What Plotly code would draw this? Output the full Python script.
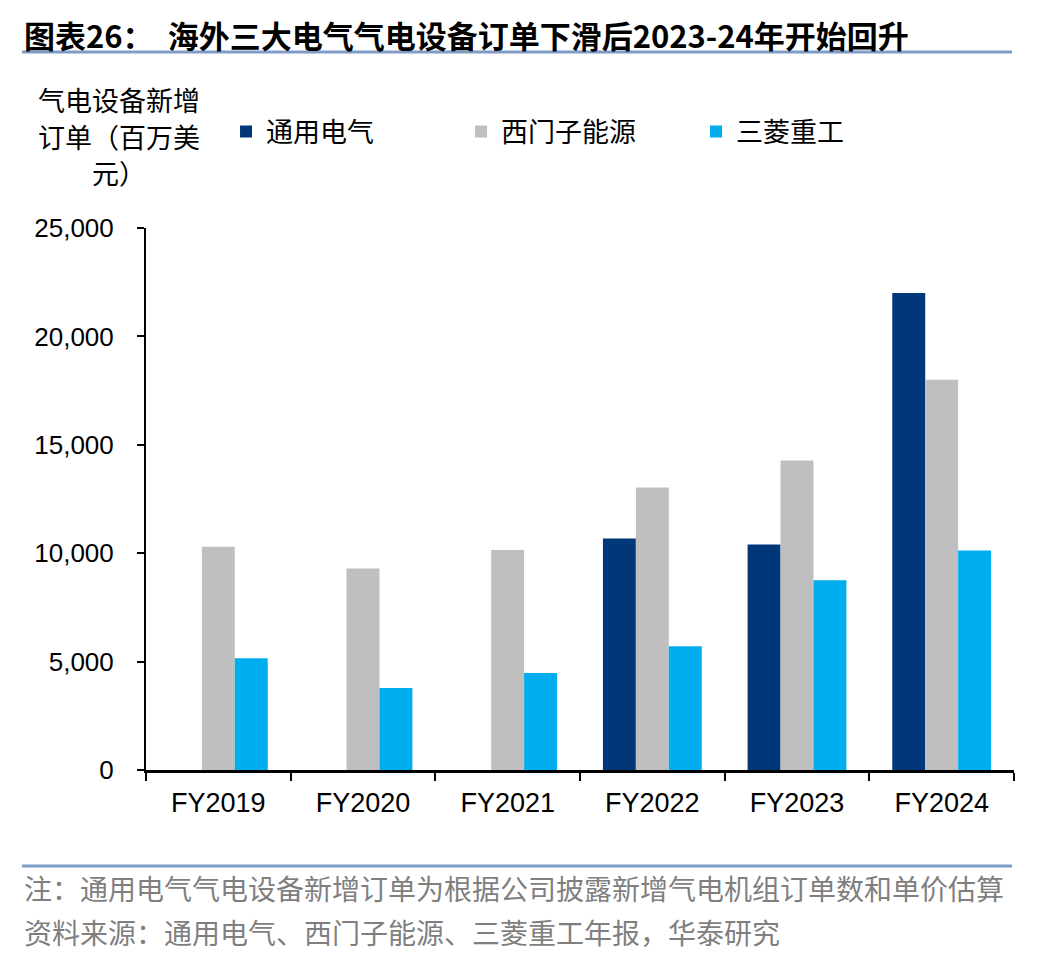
import plotly.graph_objects as go

categories = ["FY2019", "FY2020", "FY2021", "FY2022", "FY2023", "FY2024"]
ge = [None, None, None, 10680, 10400, 22000]
siemens = [10300, 9300, 10150, 13030, 14280, 18000]
mhi = [5150, 3780, 4470, 5710, 8750, 10130]
series_names = ["通用电气", "西门子能源", "三菱重工"]
colors = ["#003778", "#BFBFBF", "#00ADEE"]
y_ticks = [0, 5000, 10000, 15000, 20000, 25000]

title = "图表26：  海外三大电气气电设备订单下滑后2023-24年开始回升"
y_label_lines = ["气电设备新增", "订单（百万美", "元）"]
note = "注：通用电气气电设备新增订单为根据公司披露新增气电机组订单数和单价估算"
source = "资料来源：通用电气、西门子能源、三菱重工年报，华泰研究"

cjk = "Noto Sans CJK SC"
latin = "Arial, Liberation Sans"

fig = go.Figure()
for name, vals, c in zip(series_names, [ge, siemens, mhi], colors):
    fig.add_trace(go.Bar(x=categories, y=vals, name=name, marker=dict(color=c, line=dict(width=0))))

fig.update_layout(
    width=1040, height=948,
    paper_bgcolor="white", plot_bgcolor="white",
    margin=dict(l=138, r=34, t=220, b=186),
    barmode="group", bargap=0.317, bargroupgap=0,
    showlegend=True,
    legend=dict(orientation="h", x=0.0922, xanchor="left", y=0.8692, yanchor="middle",
                xref="paper", yref="container",
                font=dict(family=cjk, size=27, color="black"),
                entrywidth=190, entrywidthmode="pixels", itemwidth=30,
                bgcolor="rgba(0,0,0,0)"),
    xaxis=dict(type="category", showline=True, linecolor="black", linewidth=3,
               ticks="outside", tickson="boundaries", ticklen=8, tickwidth=2, tickcolor="black",
               tickfont=dict(family=latin, size=27, color="black"), showgrid=False,
               ticklabelstandoff=7, zeroline=False),
    yaxis=dict(range=[0, 25000], tickvals=y_ticks, tickformat=",", showline=True,
               linecolor="black", linewidth=2, ticks="outside", ticklen=7, tickwidth=2,
               tickcolor="black", tickfont=dict(family=latin, size=26, color="black"),
               ticklabelstandoff=18, showgrid=False, zeroline=False),
)

fig.add_annotation(text="<b>" + title + "</b>", xref="paper", yref="paper", x=-0.1429, y=1.357,
                   xanchor="left", yanchor="middle", showarrow=False,
                   font=dict(family=cjk, size=31, color="black"))
fig.add_shape(type="line", xref="paper", yref="paper", x0=-0.1429, x1=0.9977, y0=1.3247, y1=1.3247,
              line=dict(color="#7F9CC6", width=3))
for line_text, yy in zip(y_label_lines, [1.2362, 1.1679, 1.1033]):
    fig.add_annotation(text=line_text, xref="paper", yref="paper", x=-0.0311, y=yy,
                       xanchor="center", yanchor="middle", showarrow=False,
                       font=dict(family=cjk, size=27, color="black"))

fig.add_shape(type="line", xref="paper", yref="paper", x0=-0.1429, x1=0.9977, y0=-0.1771, y1=-0.1771,
              line=dict(color="#7F9CC6", width=3))
fig.add_annotation(text=note, xref="paper", yref="paper", x=-0.1429, y=-0.2177,
                   xanchor="left", yanchor="middle", showarrow=False,
                   font=dict(family=cjk, size=28, color="#7F7F7F"))
fig.add_annotation(text=source, xref="paper", yref="paper", x=-0.1429, y=-0.2989,
                   xanchor="left", yanchor="middle", showarrow=False,
                   font=dict(family=cjk, size=28, color="#7F7F7F"))

fig.write_html("out.html")
